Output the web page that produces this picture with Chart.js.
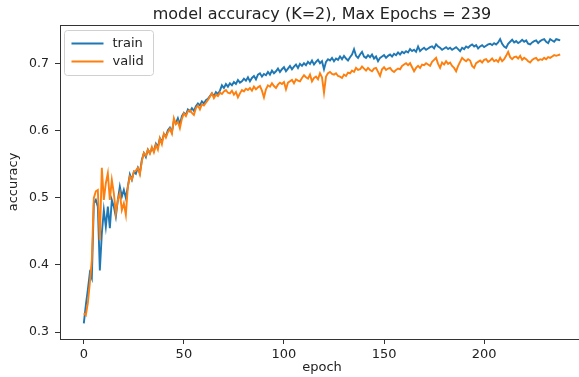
<!DOCTYPE html>
<html>
<head>
<meta charset="utf-8">
<script src="https://cdn.jsdelivr.net/npm/chart.js@4/dist/chart.umd.min.js"></script>
<style>
  html, body { margin: 0; padding: 0; background: #fff; overflow: hidden; }
  #wrap { width: 590px; height: 377px; }
</style>
</head>
<body>
<div id="wrap"><canvas id="acc" width="590" height="377"></canvas></div>
<script>
// values, one per epoch (0..238)
var train = [
  0.313, 0.340, 0.363, 0.388, 0.380, 0.492, 0.497, 0.487, 0.392, 0.447,
  0.482, 0.457, 0.487, 0.455, 0.497, 0.487, 0.472, 0.497, 0.517, 0.502,
  0.512, 0.500, 0.517, 0.535, 0.527, 0.539, 0.536, 0.545, 0.537, 0.557,
  0.567, 0.561, 0.572, 0.567, 0.574, 0.570, 0.581, 0.576, 0.589, 0.584,
  0.595, 0.592, 0.601, 0.605, 0.598, 0.615, 0.612, 0.619, 0.610, 0.622,
  0.627, 0.624, 0.632, 0.629, 0.634, 0.630, 0.637, 0.641, 0.638, 0.644,
  0.641, 0.646, 0.648, 0.652, 0.656, 0.652, 0.658, 0.655, 0.660, 0.668,
  0.664, 0.670, 0.666, 0.671, 0.668, 0.673, 0.670, 0.676, 0.672, 0.674,
  0.678, 0.675, 0.680, 0.674, 0.679, 0.682, 0.677, 0.684, 0.686, 0.681,
  0.685, 0.683, 0.688, 0.684, 0.690, 0.686, 0.689, 0.693, 0.688, 0.692,
  0.695, 0.689, 0.693, 0.697, 0.692, 0.696, 0.699, 0.694, 0.700, 0.697,
  0.701, 0.698, 0.703, 0.700, 0.705, 0.699, 0.703, 0.706, 0.701, 0.704,
  0.692, 0.703, 0.707, 0.705, 0.709, 0.704, 0.708, 0.706, 0.711, 0.707,
  0.712, 0.708, 0.705, 0.710, 0.714, 0.722, 0.712, 0.709, 0.714, 0.718,
  0.711, 0.709, 0.713, 0.710, 0.714, 0.708, 0.711, 0.704, 0.709, 0.711,
  0.713, 0.709, 0.712, 0.714, 0.711, 0.715, 0.713, 0.717, 0.714, 0.718,
  0.716, 0.719, 0.717, 0.722, 0.719, 0.721, 0.718, 0.726, 0.719, 0.722,
  0.724, 0.721, 0.723, 0.725, 0.726, 0.723, 0.729, 0.726, 0.724, 0.721,
  0.723, 0.725, 0.722, 0.724, 0.721, 0.723, 0.725, 0.722, 0.719, 0.724,
  0.722, 0.726, 0.724, 0.727, 0.729, 0.726, 0.728, 0.723, 0.726, 0.728,
  0.725, 0.727, 0.729, 0.730, 0.728, 0.731, 0.729, 0.732, 0.737, 0.730,
  0.726, 0.724, 0.730, 0.733, 0.736, 0.732, 0.734, 0.731, 0.733, 0.736,
  0.733, 0.735, 0.730, 0.729, 0.732, 0.734, 0.735, 0.731, 0.734, 0.736,
  0.737, 0.733, 0.731, 0.737, 0.735, 0.733, 0.737, 0.736, 0.735
];
var valid = [
  0.328, 0.325, 0.343, 0.373, 0.407, 0.500, 0.510, 0.512, 0.437, 0.545,
  0.497, 0.522, 0.537, 0.497, 0.527, 0.507, 0.477, 0.497, 0.507, 0.482,
  0.492, 0.475, 0.517, 0.532, 0.527, 0.539, 0.541, 0.545, 0.535, 0.555,
  0.567, 0.563, 0.572, 0.566, 0.576, 0.568, 0.579, 0.572, 0.589, 0.580,
  0.596, 0.590, 0.598, 0.603, 0.596, 0.619, 0.610, 0.614, 0.604, 0.618,
  0.626, 0.622, 0.629, 0.631, 0.627, 0.624, 0.634, 0.638, 0.632, 0.640,
  0.638, 0.642, 0.646, 0.651, 0.656, 0.649, 0.654, 0.652, 0.657, 0.655,
  0.659, 0.661, 0.657, 0.656, 0.660, 0.654, 0.658, 0.650, 0.656, 0.661,
  0.659, 0.663, 0.661, 0.664, 0.660, 0.666, 0.662, 0.665, 0.667, 0.660,
  0.650, 0.662, 0.668, 0.666, 0.671, 0.667, 0.664, 0.669, 0.672, 0.670,
  0.673, 0.662, 0.672, 0.674, 0.676, 0.671, 0.677, 0.675, 0.674, 0.679,
  0.683, 0.680, 0.678, 0.684, 0.674, 0.679, 0.681, 0.677, 0.686, 0.680,
  0.657, 0.681, 0.686, 0.688, 0.685, 0.684, 0.686, 0.682, 0.681, 0.679,
  0.684, 0.682, 0.687, 0.686, 0.690, 0.688, 0.694, 0.691, 0.692, 0.696,
  0.693, 0.690, 0.694, 0.691, 0.689, 0.693, 0.694, 0.688, 0.682, 0.692,
  0.695, 0.691, 0.693, 0.694, 0.690, 0.688, 0.691, 0.693, 0.692, 0.697,
  0.699, 0.701, 0.698, 0.701, 0.695, 0.689, 0.694, 0.697, 0.694, 0.699,
  0.698, 0.701, 0.699, 0.697, 0.703, 0.706, 0.709, 0.700, 0.694, 0.702,
  0.699, 0.704, 0.700, 0.702, 0.697, 0.694, 0.689, 0.697, 0.703, 0.709,
  0.706, 0.704, 0.707, 0.705, 0.697, 0.694, 0.701, 0.703, 0.705, 0.702,
  0.706, 0.707, 0.703, 0.705, 0.708, 0.704, 0.706, 0.703, 0.709, 0.704,
  0.707, 0.712, 0.718, 0.710, 0.707, 0.710, 0.711, 0.708, 0.712, 0.706,
  0.709, 0.707, 0.704, 0.702, 0.706, 0.708, 0.709, 0.705, 0.707, 0.706,
  0.709, 0.707, 0.710, 0.709, 0.711, 0.713, 0.712, 0.713, 0.714
];
var xTicks = [0, 50, 100, 150, 200];
var yTicks = [0.3, 0.4, 0.5, 0.6, 0.7];
var titleText = 'model accuracy (K=2), Max Epochs = 239';

var FONT = 'DejaVu Sans';
var INK = '#333';

function points(arr) {
  return arr.map(function (v, i) { return { x: i, y: v }; });
}

// box, title and legend drawn the matplotlib way
var mplLook = {
  id: 'mplLook',
  afterDraw: function (chart) {
    var ctx = chart.ctx, a = chart.chartArea;
    ctx.save();
    ctx.strokeStyle = INK;
    ctx.lineWidth = 1;
    ctx.strokeRect(a.left + 0.5, a.top + 0.5, a.right - a.left - 1, a.bottom - a.top);

    ctx.fillStyle = '#222';
    ctx.font = '16px "' + FONT + '"';
    ctx.textAlign = 'center';
    ctx.textBaseline = 'middle';
    ctx.fillText(titleText, (a.left + a.right) / 2, 15);

    // legend
    var bx = a.left + 4.5, by = a.top + 5.5, bw = 89, bh = 45;
    ctx.beginPath();
    ctx.roundRect(bx, by, bw, bh, 3);
    ctx.fillStyle = 'rgba(255,255,255,0.8)';
    ctx.fill();
    ctx.strokeStyle = '#d0d0d0';
    ctx.stroke();
    ctx.font = '13px "' + FONT + '"';
    ctx.textAlign = 'left';
    chart.data.datasets.forEach(function (ds, i) {
      var y = by + 13 + i * 18;
      ctx.strokeStyle = ds.borderColor;
      ctx.lineWidth = 2;
      ctx.beginPath();
      ctx.moveTo(bx + 7, y);
      ctx.lineTo(bx + 39, y);
      ctx.stroke();
      ctx.fillStyle = '#222';
      ctx.fillText(ds.label, bx + 48, y);
    });
    ctx.restore();
  }
};

new Chart(document.getElementById('acc').getContext('2d'), {
  type: 'line',
  data: {
    datasets: [{
      label: 'train',
      data: points(train),
      borderColor: '#1f77b4',
      borderWidth: 1.9,
      pointRadius: 0,
      order: 1
    }, {
      label: 'valid',
      data: points(valid),
      borderColor: '#ff7f0e',
      borderWidth: 1.9,
      pointRadius: 0,
      order: 0
    }]
  },
  options: {
    responsive: false,
    animation: false,
    devicePixelRatio: 1,
    layout: { padding: { top: 25, right: 6, left: 0, bottom: 0 } },
    plugins: { legend: { display: false }, tooltip: { enabled: false } },
    scales: {
      x: {
        type: 'linear',
        min: -11.9,
        max: 249.9,
        afterBuildTicks: function (s) { s.ticks = xTicks.map(function (v) { return { value: v }; }); },
        afterFit: function (s) { s.height = 38; },
        border: { display: false },
        grid: { drawOnChartArea: false, tickLength: 5, tickColor: INK, tickWidth: 1 },
        ticks: { color: '#222', font: { family: FONT, size: 13 }, padding: 3, maxRotation: 0 },
        title: { display: true, text: 'epoch', color: '#222', font: { family: FONT, size: 13 }, padding: { top: 0, bottom: 2 } }
      },
      y: {
        min: 0.2896,
        max: 0.758,
        afterBuildTicks: function (s) { s.ticks = yTicks.map(function (v) { return { value: v }; }); },
        afterFit: function (s) { s.width = 60; },
        border: { display: false },
        grid: { drawOnChartArea: false, tickLength: 5, tickColor: INK, tickWidth: 1 },
        ticks: { color: '#222', font: { family: FONT, size: 12.5 }, padding: 6,
                 callback: function (v) { return v.toFixed(1); } },
        title: { display: true, text: 'accuracy', color: '#222', font: { family: FONT, size: 13 }, padding: { top: 6, bottom: 0 } }
      }
    }
  },
  plugins: [mplLook]
});
</script>
</body>
</html>
